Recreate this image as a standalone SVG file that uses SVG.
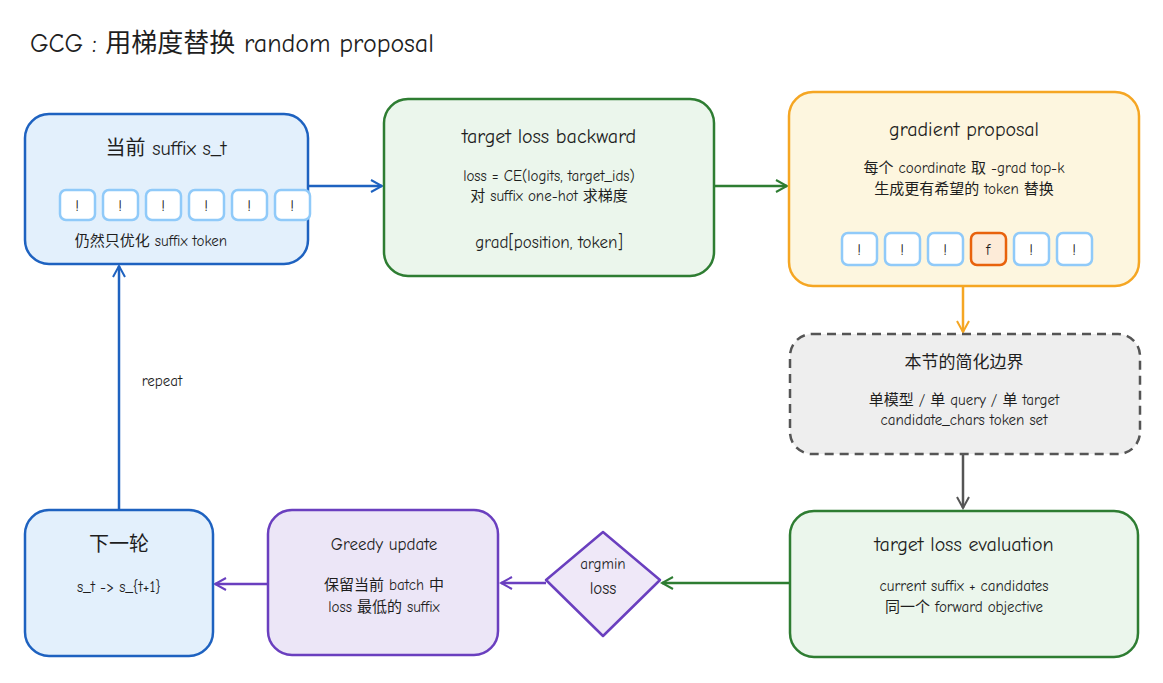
<svg xmlns="http://www.w3.org/2000/svg" width="1163" height="683" viewBox="0 0 1163 683">
<style>
text{font-family:"Comic Neue","Noto Sans","Noto Sans CJK SC",sans-serif;fill:#1e1e1e;text-anchor:middle}
.t{font-size:20px}.s{font-size:15px}.m{font-size:17px}
.tok{fill:#fff;stroke:#90caf9;stroke-width:2.5}
.c{fill:none;stroke-width:2.5}
</style>
<defs>
<marker id="mb" markerWidth="14" markerHeight="14" refX="12" refY="7" orient="auto" markerUnits="userSpaceOnUse"><path d="M1 1L12 7L1 13" fill="none" stroke="#1e62c0" stroke-width="2"/></marker>
<marker id="mg" markerWidth="14" markerHeight="14" refX="12" refY="7" orient="auto" markerUnits="userSpaceOnUse"><path d="M1 1L12 7L1 13" fill="none" stroke="#2e7d32" stroke-width="2"/></marker>
<marker id="mo" markerWidth="14" markerHeight="14" refX="12" refY="7" orient="auto" markerUnits="userSpaceOnUse"><path d="M1 1L12 7L1 13" fill="none" stroke="#f5a623" stroke-width="2"/></marker>
<marker id="md" markerWidth="14" markerHeight="14" refX="12" refY="7" orient="auto" markerUnits="userSpaceOnUse"><path d="M1 1L12 7L1 13" fill="none" stroke="#555" stroke-width="2"/></marker>
<marker id="mp" markerWidth="14" markerHeight="14" refX="12" refY="7" orient="auto" markerUnits="userSpaceOnUse"><path d="M1 1L12 7L1 13" fill="none" stroke="#6a3fbf" stroke-width="2"/></marker>
</defs>
<rect width="1163" height="683" fill="#fff"/>
<text x="30" y="52" style="font-size:26px;text-anchor:start">GCG : 用梯度替换 random proposal</text>

<g id="connectors">
<path class="c" stroke="#1e62c0" d="M308 186H382" marker-end="url(#mb)"/>
<path class="c" stroke="#2e7d32" d="M714 186H787" marker-end="url(#mg)"/>
<path class="c" stroke="#f5a623" d="M963 286V332" marker-end="url(#mo)"/>
<path class="c" stroke="#555" d="M963 454V508" marker-end="url(#md)"/>
<path class="c" stroke="#2e7d32" d="M790 583H662" marker-end="url(#mg)"/>
<path class="c" stroke="#6a3fbf" d="M546 583H501" marker-end="url(#mp)"/>
<path class="c" stroke="#6a3fbf" d="M268 584H215" marker-end="url(#mp)"/>
<path class="c" stroke="#1e62c0" d="M119 510V266" marker-end="url(#mb)"/>
<text class="s" x="162" y="386">repeat</text>
</g>

<g id="current">
<rect x="25" y="114" width="283" height="150" rx="24" fill="#e3f0fc" stroke="#1e62c0" stroke-width="2.5"/>
<text class="t" x="166" y="155">当前 suffix  s_t</text>
<rect class="tok" x="60" y="190" width="35" height="30" rx="6"/><text class="s" x="77" y="211">!</text>
<rect class="tok" x="103" y="190" width="35" height="30" rx="6"/><text class="s" x="120" y="211">!</text>
<rect class="tok" x="146" y="190" width="35" height="30" rx="6"/><text class="s" x="163" y="211">!</text>
<rect class="tok" x="189" y="190" width="35" height="30" rx="6"/><text class="s" x="206" y="211">!</text>
<rect class="tok" x="232" y="190" width="35" height="30" rx="6"/><text class="s" x="249" y="211">!</text>
<rect class="tok" x="275" y="190" width="35" height="30" rx="6"/><text class="s" x="292" y="211">!</text>
<text class="s" x="151" y="246">仍然只优化 suffix token</text>
</g>

<g id="backward">
<rect x="384" y="99" width="330" height="177" rx="24" fill="#ebf6ec" stroke="#2e7d32" stroke-width="2.5"/>
<text class="t" x="549" y="143">target loss backward</text>
<text class="s" x="549" y="181">loss = CE(logits, target_ids)</text>
<text class="s" x="549" y="201">对 suffix one-hot 求梯度</text>
<text class="m" x="549" y="248">grad[position, token]</text>
</g>

<g id="proposal">
<rect x="789" y="92" width="350" height="194" rx="24" fill="#fdf6df" stroke="#f5a623" stroke-width="2.5"/>
<text class="t" x="964" y="136">gradient proposal</text>
<text class="s" x="964" y="173">每个 coordinate 取 -grad top-k</text>
<text class="s" x="964" y="194">生成更有希望的 token 替换</text>
<rect class="tok" x="842" y="233" width="35" height="32" rx="6"/><text class="s" x="859" y="255">!</text>
<rect class="tok" x="885" y="233" width="35" height="32" rx="6"/><text class="s" x="902" y="255">!</text>
<rect class="tok" x="928" y="233" width="35" height="32" rx="6"/><text class="s" x="945" y="255">!</text>
<rect x="971" y="233" width="35" height="32" rx="6" fill="#fdebd8" stroke="#e8620c" stroke-width="2.5"/><text class="s" x="988" y="255">f</text>
<rect class="tok" x="1014" y="233" width="35" height="32" rx="6"/><text class="s" x="1031" y="255">!</text>
<rect class="tok" x="1057" y="233" width="35" height="32" rx="6"/><text class="s" x="1074" y="255">!</text>
</g>

<g id="boundary">
<rect x="790" y="334" width="350" height="120" rx="22" fill="#eeeeee" stroke="#555" stroke-width="2.5" stroke-dasharray="9 6"/>
<text class="m" x="964" y="368">本节的简化边界</text>
<text class="s" x="964" y="405">单模型 / 单 query / 单 target</text>
<text class="s" x="964" y="425">candidate_chars token set</text>
</g>

<g id="evaluation">
<rect x="790" y="511" width="348" height="146" rx="24" fill="#ebf6ec" stroke="#2e7d32" stroke-width="2.5"/>
<text class="t" x="964" y="551">target loss evaluation</text>
<text class="s" x="964" y="591">current suffix + candidates</text>
<text class="s" x="964" y="612">同一个 forward objective</text>
</g>

<g id="argmin">
<path d="M603 532L660 580L603 636L546 580Z" fill="#efe8f8" stroke="#6a3fbf" stroke-width="2.5" stroke-linejoin="round"/>
<text class="s" x="603" y="569">argmin</text>
<text class="m" x="603" y="594">loss</text>
</g>

<g id="greedy">
<rect x="268" y="510" width="230" height="145" rx="24" fill="#ece6f7" stroke="#6a3fbf" stroke-width="2.5"/>
<text class="m" x="384" y="550">Greedy update</text>
<text class="s" x="384" y="590">保留当前 batch 中</text>
<text class="s" x="384" y="612">loss 最低的 suffix</text>
</g>

<g id="next">
<rect x="25" y="510" width="188" height="146" rx="24" fill="#e3f0fc" stroke="#1e62c0" stroke-width="2.5"/>
<text class="t" x="119" y="551">下一轮</text>
<text class="s" x="119" y="592">s_t -&gt; s_{t+1}</text>
</g>
</svg>
